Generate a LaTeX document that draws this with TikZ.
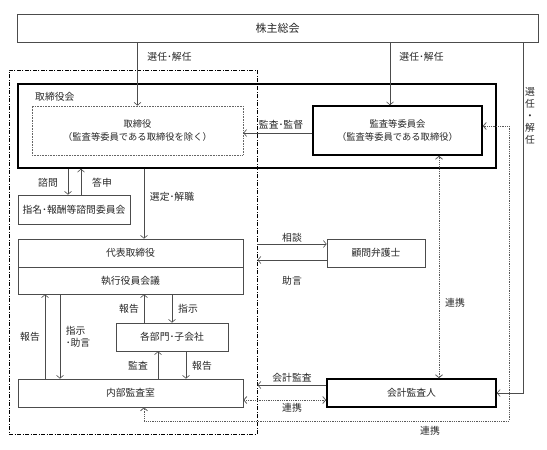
\documentclass[tikz,border=0pt]{standalone}
\usepackage{fontspec}
\setmainfont{Noto Sans CJK JP}
\usetikzlibrary{arrows.meta}
\newcommand{\boxFont}[0]{\fontsize{9.8}{13}\selectfont}
\newcommand{\tipShape}[0]{Straight Barb[length=3pt,width=7pt]}

\begin{document}
\begin{tikzpicture}[x=1pt, y=-1pt, font=\boxFont]
  \tikzset{every node/.style={inner sep=0pt, text=black!85, align=center},
           box/.style={draw=black!70, line width=0.6pt},
           heavybox/.style={draw=black, line width=1.5pt},
           dotbox/.style={draw=black!60, line width=0.6pt, dash pattern=on 0.8pt off 0.8pt},
           group/.style={draw=black, line width=0.9pt, dash pattern=on 4pt off 1.5pt on 1pt off 1.5pt},
           arr/.style={draw=black!70, line width=0.6pt, -{\tipShape}},
           link/.style={draw=black!65, line width=0.8pt, dash pattern=on 0.9pt off 0.9pt, {\tipShape}-{\tipShape}},
           lbl/.style={font=\boxFont}}
  \useasboundingbox (0,0) rectangle (547,450);

  \node[group, minimum width=248pt, minimum height=364pt] (inside) at (133,252) {};
  \node[box, line width=1pt, minimum width=521pt, minimum height=28pt, font=\fontsize{11}{12}\selectfont] (soukai) at (277.5,28) {株主総会};
  \node[heavybox, minimum width=478pt, minimum height=84pt] (board) at (257,126) {};
  \node[anchor=west] (boardlbl) at (35,97) {取締役会};
  \node[dotbox, minimum width=211pt, minimum height=49pt, font=\fontsize{9.3}{13}\selectfont] (directors) at (137.5,130.5) {取締役\\（監査等委員である取締役を除く）};
  \node[heavybox, minimum width=169pt, minimum height=49pt, font=\fontsize{9.3}{13}\selectfont] (auditcomm) at (397.5,130.5) {監査等委員会\\（監査等委員である取締役）};
  \node[box, minimum width=112pt, minimum height=29pt] (nomcomm) at (74,209.5) {指名･報酬等諮問委員会};
  \node[box, minimum width=225pt, minimum height=28pt] (ceo) at (130.5,253) {代表取締役};
  \node[box, minimum width=225pt, minimum height=27pt] (execmtg) at (130.5,280.5) {執行役員会議};
  \node[box, minimum width=98pt, minimum height=28pt] (lawyer) at (376,253) {顧問弁護士};
  \node[box, minimum width=112pt, minimum height=28pt] (depts) at (172,337) {各部門･子会社};
  \node[box, minimum width=225pt, minimum height=28pt] (internal) at (130.5,393) {内部監査室};
  \node[heavybox, minimum width=169pt, minimum height=28pt] (accountant) at (411.5,393) {会計監査人};

  \coordinate (rightline) at (523,0);
  \coordinate (looprt) at (509,421);

  \draw[arr] (soukai.south -| directors) -- (directors.north);
  \draw[arr] (soukai.south -| 390,0) -- (auditcomm.north -| 390,0);
  \draw[arr] (soukai.south -| rightline) -- (rightline |- accountant.east) -- (accountant.east);
  \draw[arr] (auditcomm.west |- 0,133) -- (directors.east |- 0,133);
  \draw[link] (auditcomm.east |- 0,126) -| (looprt) -| (internal.south -| 144,0);
  \draw[link] (auditcomm.south -| 439,0) -- (accountant.north -| 439,0);
  \draw[arr] (board.south -| 68,0) -- (nomcomm.north -| 68,0);
  \draw[arr] (nomcomm.north -| 81,0) -- (board.south -| 81,0);
  \draw[arr] (board.south -| 144,0) -- (ceo.north -| 144,0);
  \draw[arr] (inside.east |- 0,244) -- (lawyer.west |- 0,244);
  \draw[arr] (lawyer.west |- 0,260) -- (inside.east |- 0,260);
  \draw[arr] (internal.north -| 45,0) -- (execmtg.south -| 45,0);
  \draw[arr] (execmtg.south -| 60,0) -- (internal.north -| 60,0);
  \draw[arr] (depts.north -| 144,0) -- (execmtg.south -| 144,0);
  \draw[arr] (execmtg.south -| 172,0) -- (depts.north -| 172,0);
  \draw[arr] (internal.north -| 158,0) -- (depts.south -| 158,0);
  \draw[arr] (depts.south -| 186,0) -- (internal.north -| 186,0);
  \draw[arr] (accountant.west |- 0,385) -- (inside.east |- 0,385);
  \draw[link] (internal.east |- 0,400) -- (accountant.west |- 0,400);

  \node[lbl] (elect1) at (169.5,57) {選任･解任};
  \node[lbl] (elect2) at (421.5,57) {選任･解任};
  \node[lbl, font=\fontsize{9.8}{12}\selectfont] (elect3) at (530,116) {選\\任\\・\\解\\任};
  \node[lbl] (oversee) at (281,125) {監査･監督};
  \node[lbl] (consult) at (48,183) {諮問};
  \node[lbl] (answer) at (102,183) {答申};
  \node[lbl] (appoint) at (172,197) {選定･解職};
  \node[lbl] (advice1) at (292,238) {相談};
  \node[lbl] (advice2) at (292,281) {助言};
  \node[lbl] (report1) at (30,337) {報告};
  \node[lbl, align=left, font=\fontsize{9.8}{11.5}\selectfont] (guide) at (78,337) {指示\\･助言};
  \node[lbl] (report2) at (129,309) {報告};
  \node[lbl] (order) at (188,309) {指示};
  \node[lbl] (audit) at (138,366) {監査};
  \node[lbl] (report3) at (202,366) {報告};
  \node[lbl] (acctaudit) at (292,378) {会計監査};
  \node[lbl] (coop1) at (292,408) {連携};
  \node[lbl] (coop2) at (455,303) {連携};
  \node[lbl] (coop3) at (430,431) {連携};
\end{tikzpicture}
\end{document}
